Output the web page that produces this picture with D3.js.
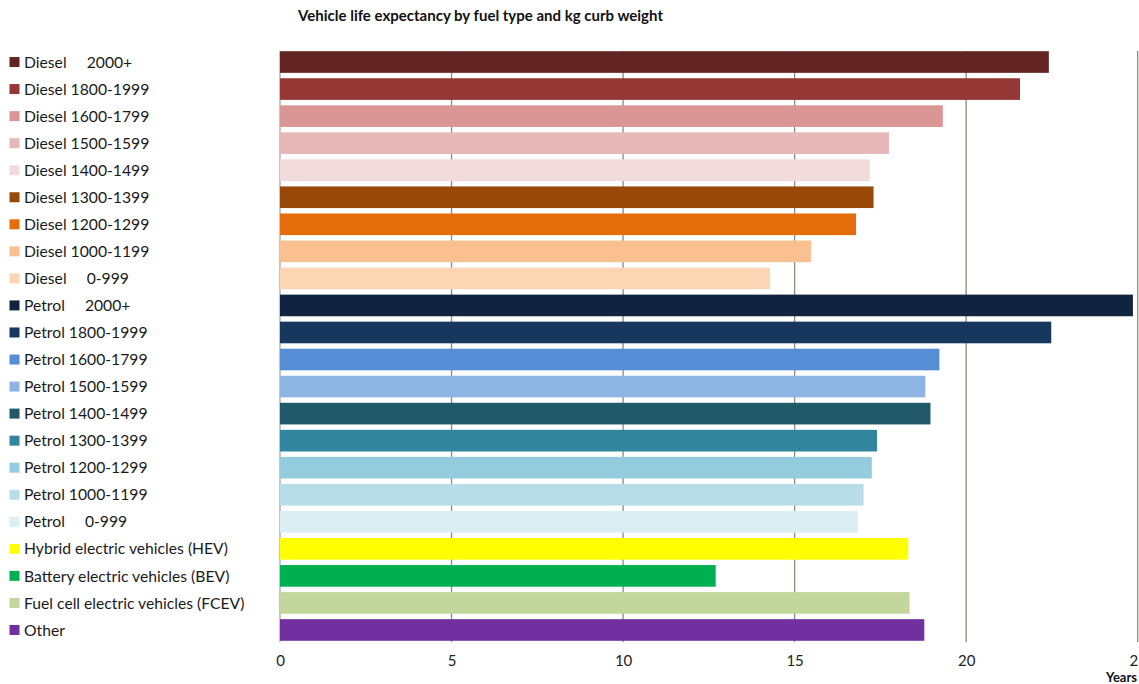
<!DOCTYPE html>
<html><head><meta charset="utf-8">
<script src="https://cdn.jsdelivr.net/npm/d3@7"></script>
<style>
html,body{margin:0;padding:0;background:#fff;overflow:hidden}
svg{display:block}
text{font-family:Lato,"Open Sans",sans-serif}
</style></head>
<body>
<svg id="chart" width="1139" height="684"></svg>
<script>
const categories = [
  "Diesel     2000+","Diesel 1800-1999","Diesel 1600-1799","Diesel 1500-1599","Diesel 1400-1499",
  "Diesel 1300-1399","Diesel 1200-1299","Diesel 1000-1199","Diesel     0-999",
  "Petrol     2000+","Petrol 1800-1999","Petrol 1600-1799","Petrol 1500-1599","Petrol 1400-1499",
  "Petrol 1300-1399","Petrol 1200-1299","Petrol 1000-1199","Petrol     0-999",
  "Hybrid electric vehicles (HEV)","Battery electric vehicles (BEV)","Fuel cell electric vehicles (FCEV)","Other"
];
const lifeYears = [
  22.41, 21.57, 19.32, 17.75, 17.19, 17.30, 16.79, 15.48, 14.28,
  24.86, 22.48, 19.22, 18.81, 18.96, 17.40, 17.25, 17.01, 16.84,
  18.31, 12.70, 18.35, 18.78
];
const barColors = [
  "#632523","#953735","#D99694","#E6B9B8","#F2DCDB","#984807","#E46C0A","#FAC090","#FCD5B5",
  "#10243F","#17375E","#558ED5","#8EB4E3","#215968","#31859C","#93CDDD","#B7DEE8","#DBEEF4",
  "#FFFF00","#00B050","#C3D69B","#7030A0"
];
const xTicks = [0,5,10,15,20,25];
const titleText = "Vehicle life expectancy by fuel type and kg curb weight";
const axisTitle = "Years";

const svg = d3.select("#chart");
const x = d3.scaleLinear().domain([0,25]).range([280,1137.7]);
const y = d3.scaleBand().domain(categories).range([48.5,643.5]).paddingInner(0.2).paddingOuter(0.1);

// gridlines
svg.append("g").selectAll("line").data(xTicks).join("line")
  .attr("x1",d=>x(d)).attr("x2",d=>x(d))
  .attr("y1",51).attr("y2",642)
  .attr("stroke",d=>d===0?"#A6A6A6":"#8C8A7A").attr("stroke-width",1.3);

// bars
svg.append("g").selectAll("rect").data(categories).join("rect")
  .attr("x",x(0)).attr("y",d=>y(d))
  .attr("width",(d,i)=>x(lifeYears[i])-x(0))
  .attr("height",y.bandwidth())
  .attr("fill",(d,i)=>barColors[i]);

// x axis
const xAxis = d3.axisBottom(x).tickValues(xTicks).tickSize(0).tickPadding(0);
const ax = svg.append("g").attr("transform","translate(0,655)").call(xAxis);
ax.select(".domain").remove();
ax.selectAll("text").attr("font-size",15).attr("fill","#222")
  .style("font-family","Lato,'Open Sans',sans-serif");

// axis title
svg.append("text").attr("x",1137).attr("y",681.5).attr("text-anchor","end")
  .attr("font-size",13).attr("font-weight","bold").attr("fill","#111").text(axisTitle);

// title
svg.append("text").attr("x",480.5).attr("y",21).attr("text-anchor","middle")
  .attr("font-size",15).attr("font-weight","bold").attr("fill","#111").text(titleText);

// legend
const lg = svg.append("g");
const rows = lg.selectAll("g").data(categories).join("g")
  .attr("transform",d=>`translate(0,${y(d)+y.bandwidth()/2})`);
rows.append("rect").attr("x",9.5).attr("y",-5).attr("width",10).attr("height",10)
  .attr("fill",(d,i)=>barColors[i]);
rows.append("text").attr("x",24).attr("y",0).attr("dy","0.36em")
  .attr("font-size",15.7).attr("fill","#1a1a1a").style("white-space","pre").text(d=>d);
</script>
</body></html>
